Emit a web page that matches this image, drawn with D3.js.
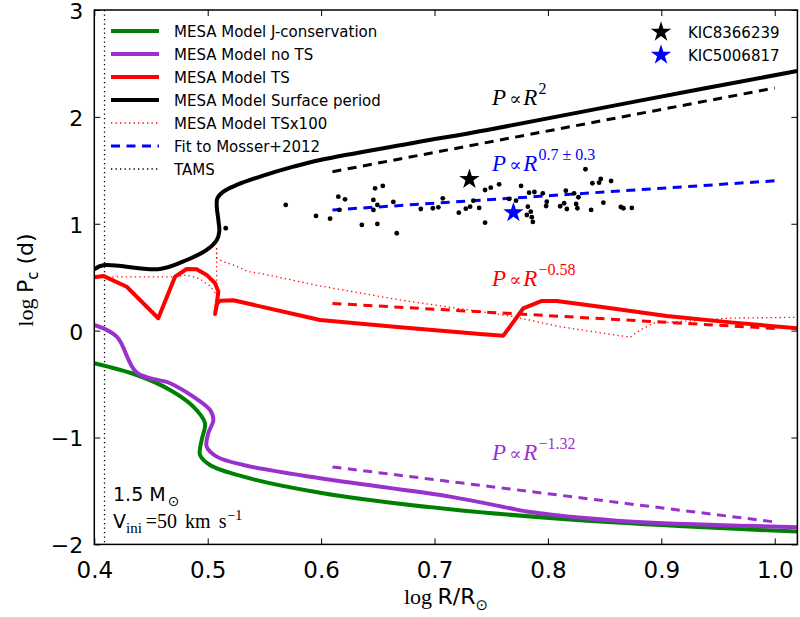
<!DOCTYPE html>
<html><head><meta charset="utf-8">
<script src="https://cdn.jsdelivr.net/npm/d3@7"></script>
<style>body{margin:0;background:#fff}</style>
</head><body>
<svg id="c" width="800" height="617"></svg>
<script>
// ---------- data ----------
const xTicks = [0.4, 0.5, 0.6, 0.7, 0.8, 0.9, 1.0];
const yTicks = [-2, -1, 0, 1, 2, 3];

const surfacePeriod = [[0.4,0.574],[0.4079,0.612],[0.4579,0.577],[0.4815,0.661],[0.4991,0.755],[0.508,0.848],[0.5102,0.926],[0.5094,1.035],[0.508,1.160],[0.5085,1.238],[0.5138,1.300],[0.5256,1.363],[0.5462,1.441],[0.5755,1.534],[0.5991,1.597],[0.6811,1.756],[0.7464,1.877],[0.88,2.15],[1.0197,2.429]];
const modelTS = [[0.4,0.500],[0.4079,0.512],[0.4286,0.411],[0.4564,0.116],[0.4712,0.505],[0.4815,0.577],[0.4903,0.574],[0.4991,0.521],[0.5065,0.443],[0.5094,0.365],[0.508,0.256],[0.5065,0.156],[0.5082,0.250],[0.5109,0.280],[0.5226,0.284],[0.5991,0.100],[0.6696,0.032],[0.7401,-0.031],[0.7607,-0.047],[0.7783,0.209],[0.7946,0.278],[0.8078,0.278],[0.846,0.224],[0.9048,0.137],[0.9636,0.075],[1.0197,0.022]];
const modelTSx100 = [[0.4,0.503],[0.4712,0.503],[0.4815,0.521],[0.4932,0.484],[0.502,0.418],[0.5065,0.355],[0.5078,0.334],[0.5078,0.786],[0.5082,0.677],[0.5138,0.645],[0.5226,0.614],[0.5358,0.552],[0.5461,0.537],[0.5991,0.418],[0.6696,0.287],[0.7666,0.137],[0.8107,0.037],[0.8725,-0.062],[0.8813,0.006],[0.8929,0.069],[0.9282,0.093],[0.9577,0.116],[1.0197,0.125]];
const modelNoTS = [[0.4,0.053],[0.4198,-0.056],[0.4374,-0.393],[0.4668,-0.492],[0.4873,-0.618],[0.502,-0.742],[0.505,-0.836],[0.5005,-0.960],[0.4991,-1.085],[0.508,-1.179],[0.5314,-1.257],[0.5991,-1.381],[0.7137,-1.553],[0.7666,-1.662],[0.7813,-1.693],[0.8607,-1.778],[1.0197,-1.839]];
const modelJcons = [[0.4,-0.305],[0.4374,-0.415],[0.4668,-0.555],[0.4873,-0.711],[0.4976,-0.866],[0.4947,-1.023],[0.4932,-1.163],[0.502,-1.257],[0.5314,-1.366],[0.5991,-1.516],[0.7137,-1.671],[0.8607,-1.796],[1.0197,-1.880]];

const fitSurface = [[0.61,1.487],[1.0,2.27]];
const fitMosser  = [[0.61,1.129],[1.0,1.402]];
const fitTS      = [[0.61,0.255],[1.0,0.02]];
const fitNoTS    = [[0.61,-1.275],[1.0,-1.79]];
const tamsX = 0.409;

const mosserStars = [[0.5955,1.073],[0.6079,1.048],[0.6152,1.253],[0.6211,1.229],[0.6161,1.129],[0.6359,0.989],[0.6461,1.223],[0.6496,1.176],[0.6476,1.332],[0.6544,1.354],[0.6461,1.129],[0.6496,0.998],[0.6637,1.204],[0.6667,0.911],[0.6879,1.138],[0.6985,1.145],[0.7034,1.154],[0.7073,1.238],[0.7214,1.104],[0.7276,1.141],[0.7314,1.160],[0.7343,1.216],[0.7394,1.148],[0.7446,1.316],[0.7496,1.338],[0.7570,1.369],[0.7446,1.010],[0.7658,1.232],[0.7763,1.354],[0.7719,1.216],[0.7834,1.291],[0.7881,1.297],[0.7823,1.160],[0.7849,1.113],[0.7814,1.082],[0.7858,1.061],[0.7867,1.017],[0.7955,1.285],[0.7990,1.207],[0.7984,1.166],[0.8108,1.164],[0.8158,1.310],[0.8167,1.138],[0.8143,1.192],[0.8231,1.285],[0.8249,1.185],[0.8260,1.145],[0.8331,1.510],[0.8392,1.379],[0.8451,1.384],[0.8466,1.419],[0.8381,1.129],[0.8489,1.197],[0.8557,1.400],[0.8643,1.157],[0.8666,1.145],[0.8740,1.148],[0.8269,1.248],[0.5159,0.958],[0.5688,1.176]];
const kicStars = [{name:"KIC8366239", x:0.7308, y:1.416, color:"#000000"},{name:"KIC5006817", x:0.7696, y:1.104, color:"#0000ff"}];

const legendNames = ["MESA Model J-conservation","MESA Model no TS","MESA Model TS","MESA Model Surface period","MESA Model TSx100","Fit to Mosser+2012","TAMS"];

// ---------- layout ----------
const L = 94.3, R = 797.4, T = 10, B = 544.4;
const svg = d3.select("#c");
const x = d3.scaleLinear().domain([0.4, 1.02]).range([L, R]);
const y = d3.scaleLinear().domain([-2, 3]).range([B, T]);
const line = d3.line().x(d => x(d[0])).y(d => y(d[1]));
const smooth = d3.line().x(d => x(d[0])).y(d => y(d[1])).curve(d3.curveCatmullRom.alpha(0.5));

svg.append("defs").append("clipPath").attr("id","clip")
  .append("rect").attr("x",L).attr("y",T).attr("width",R-L).attr("height",B-T);
const g = svg.append("g").attr("clip-path","url(#clip)");

const GREEN="#008000", PURPLE="#9932cc", RED="#ff0000", BLACK="#000000", BLUE="#0000ff";

// TAMS
g.append("line").attr("x1",x(tamsX)).attr("x2",x(tamsX)).attr("y1",T).attr("y2",B)
  .attr("stroke",BLACK).attr("stroke-width",1.3).attr("stroke-dasharray","1.3,3.2");

// dotted TSx100
g.append("path").attr("d",line(modelTSx100)).attr("fill","none").attr("stroke",RED)
  .attr("stroke-width",1.3).attr("stroke-dasharray","1.3,3.2");

// fits
const dash = "9,6.5";
[[fitSurface,BLACK],[fitMosser,BLUE],[fitTS,RED],[fitNoTS,PURPLE]].forEach(([d,c])=>{
  g.append("path").attr("d",line(d)).attr("fill","none").attr("stroke",c)
   .attr("stroke-width",3).attr("stroke-dasharray",dash);
});

// model curves
g.append("path").attr("d",smooth(modelJcons)).attr("fill","none").attr("stroke",GREEN).attr("stroke-width",4).attr("stroke-linejoin","round");
g.append("path").attr("d",smooth(modelNoTS)).attr("fill","none").attr("stroke",PURPLE).attr("stroke-width",4).attr("stroke-linejoin","round");
g.append("path").attr("d",line(modelTS)).attr("fill","none").attr("stroke",RED).attr("stroke-width",4).attr("stroke-linejoin","round");
g.append("path").attr("d",smooth(surfacePeriod)).attr("fill","none").attr("stroke",BLACK).attr("stroke-width",4).attr("stroke-linejoin","round");

// scatter
g.selectAll("circle.m").data(mosserStars).enter().append("circle")
  .attr("cx",d=>x(d[0])).attr("cy",d=>y(d[1])).attr("r",2.4).attr("fill",BLACK);

const star = d3.symbol().type(d3.symbolStar).size(130);
g.selectAll("path.k").data(kicStars).enter().append("path")
  .attr("d",star).attr("transform",d=>`translate(${x(d.x)},${y(d.y)})`).attr("fill",d=>d.color);

// ---------- frame & axes ----------
svg.append("rect").attr("x",L).attr("y",T).attr("width",R-L).attr("height",B-T)
  .attr("fill","none").attr("stroke","#000").attr("stroke-width",1.5);

const fmtX = d3.format(".1f");
const axB = svg.append("g").attr("transform",`translate(0,${B})`)
  .call(d3.axisBottom(x).tickValues(xTicks).tickSizeInner(-6).tickSizeOuter(0).tickPadding(12).tickFormat(fmtX));
const axT = svg.append("g").attr("transform",`translate(0,${T})`)
  .call(d3.axisTop(x).tickValues(xTicks).tickSizeInner(-6).tickSizeOuter(0).tickFormat(""));
const axL = svg.append("g").attr("transform",`translate(${L},0)`)
  .call(d3.axisLeft(y).tickValues(yTicks).tickSizeInner(-6).tickSizeOuter(0).tickPadding(11).tickFormat(d3.format("d")));
const axR = svg.append("g").attr("transform",`translate(${R},0)`)
  .call(d3.axisRight(y).tickValues(yTicks).tickSizeInner(-6).tickSizeOuter(0).tickFormat(""));
[axB,axT,axL,axR].forEach(a=>{
  a.select(".domain").remove();
  a.selectAll(".tick line").attr("stroke","#000").attr("stroke-width",1);
  a.selectAll("text").attr("font-family","DejaVu Sans").attr("font-size",23).attr("fill","#000");
});
axB.selectAll("text").attr("dy","0.95em");
axL.selectAll("text").attr("font-size",22).attr("dy","0.38em");

// axis labels
const xl = svg.append("text").attr("x",446).attr("y",604).attr("text-anchor","middle").attr("font-size",22).attr("fill","#000");
xl.append("tspan").attr("font-family","Liberation Serif").text("log ");
xl.append("tspan").attr("font-family","DejaVu Sans").text("R/R");
xl.append("tspan").attr("font-family","DejaVu Sans").attr("font-size",15).attr("dy",6).text("⊙");

const yl = svg.append("text").attr("transform","translate(33,280) rotate(-90)").attr("text-anchor","middle").attr("font-size",22).attr("fill","#000");
yl.append("tspan").attr("font-family","Liberation Serif").text("log ");
yl.append("tspan").attr("font-family","DejaVu Sans").text("P");
yl.append("tspan").attr("font-family","DejaVu Sans").attr("font-size",15).attr("dy",5).text("c");
yl.append("tspan").attr("font-family","DejaVu Sans").attr("dy",-5).text(" (d)");

// ---------- legend ----------
const legStyles = [
  {c:GREEN,w:4,d:null},{c:PURPLE,w:4,d:null},{c:RED,w:4,d:null},{c:BLACK,w:4,d:null},
  {c:RED,w:1.3,d:"1.3,3.2"},{c:BLUE,w:3,d:dash},{c:BLACK,w:1.3,d:"1.3,3.2"}
];
legendNames.forEach((n,i)=>{
  const yy = 31 + i*23;
  const s = legStyles[i];
  svg.append("line").attr("x1",111).attr("x2",159).attr("y1",yy).attr("y2",yy)
    .attr("stroke",s.c).attr("stroke-width",s.w).attr("stroke-dasharray",s.d);
  svg.append("text").attr("x",174).attr("y",yy+5.5).attr("font-family","DejaVu Sans")
    .attr("font-size",15).attr("fill","#000").text(n);
});
kicStars.forEach((k,i)=>{
  const yy = 32 + i*23;
  svg.append("path").attr("d",star).attr("transform",`translate(661,${yy})`).attr("fill",k.color);
  svg.append("text").attr("x",688).attr("y",yy+5.5).attr("font-family","DejaVu Sans")
    .attr("font-size",15).attr("fill","#000").text(k.name);
});

// ---------- annotations ----------
function law(xp, yp, color, expo){
  const t = svg.append("text").attr("x",xp).attr("y",yp).attr("font-size",23).attr("fill",color).attr("font-family","Liberation Serif");
  t.append("tspan").attr("font-style","italic").text("P");
  t.append("tspan").attr("font-family","DejaVu Serif").attr("font-size",18).attr("dx",3).text("∝");
  t.append("tspan").attr("font-style","italic").attr("dx",2).text("R");
  t.append("tspan").attr("font-size",16).attr("dy",-11).attr("dx",1).text(expo);
}
law(x(0.7508), y(2.111), BLACK, "2");
law(x(0.7508), y(1.497), BLUE, "0.7 ± 0.3");
law(x(0.7508), y(0.421), RED, "−0.58");
law(x(0.7508), y(-1.21), PURPLE, "−1.32");

// mass / velocity text
svg.append("text").attr("x",113).attr("y",501).attr("font-family","DejaVu Sans").attr("font-size",19).attr("fill","#000")
  .call(t=>{ t.append("tspan").text("1.5 M"); t.append("tspan").attr("font-size",14).attr("dy",5).attr("dx",2).text("⊙"); });
const vt = svg.append("text").attr("x",113).attr("y",528).attr("font-size",20).attr("fill","#000");
vt.append("tspan").attr("font-family","DejaVu Sans").attr("font-size",19).text("V");
vt.append("tspan").attr("font-family","Liberation Serif").attr("font-size",15).attr("dy",5).text("ini");
vt.append("tspan").attr("font-family","Liberation Serif").attr("dy",-5).attr("dx",4).attr("word-spacing",3).text("=50 km s");
vt.append("tspan").attr("font-family","Liberation Serif").attr("font-size",14).attr("dy",-8).attr("dx",1).text("−1");
</script>
</body></html>
